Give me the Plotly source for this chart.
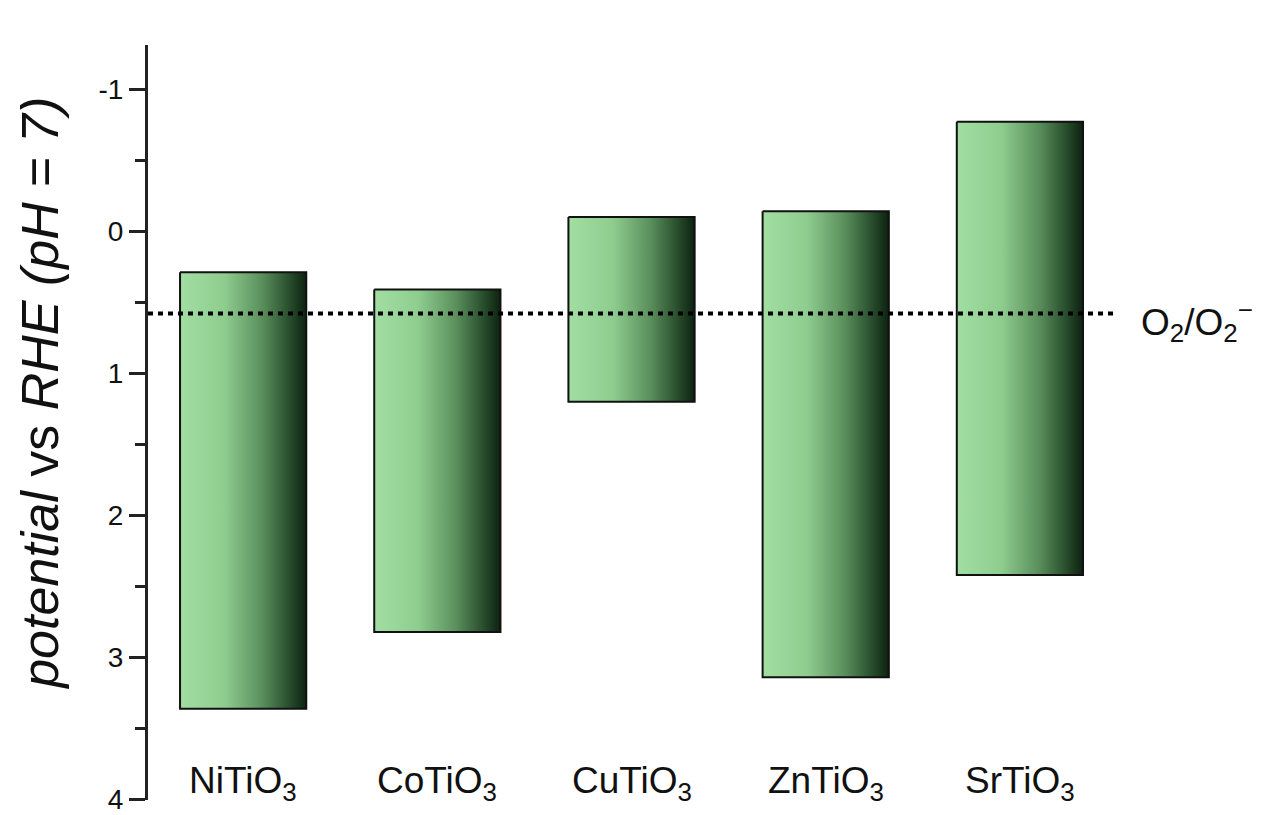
import plotly.graph_objects as go

# Band edges (V vs RHE, pH 7) for each titanate
materials = ["NiTiO<sub>3</sub>", "CoTiO<sub>3</sub>", "CuTiO<sub>3</sub>",
             "ZnTiO<sub>3</sub>", "SrTiO<sub>3</sub>"]
cb_edge = [0.29, 0.41, -0.10, -0.14, -0.77]   # conduction band (top of bar)
vb_edge = [3.36, 2.82, 1.20, 3.14, 2.42]      # valence band (bottom of bar)
o2_potential = 0.58                           # O2/O2- redox level
y_ticks = [-1, 0, 1, 2, 3, 4]
y_minor = [-0.5, 0.5, 1.5, 2.5, 3.5]

bar_width = 0.65
x_min, x_max = -0.49, 4.5
y_top, y_bottom = -1.31, 4.003

FONT = "Arial, Liberation Sans, sans-serif"

green_scale = [
    [0.0, "#a2dea2"],
    [0.35, "#8fcd8f"],
    [0.65, "#5a8f5c"],
    [0.85, "#2c5230"],
    [1.0, "#0c2210"],
]

fig = go.Figure()

for i, (top, bot) in enumerate(zip(cb_edge, vb_edge)):
    x0, x1 = i - bar_width / 2, i + bar_width / 2
    fig.add_trace(go.Scatter(
        x=[x0, x1, x1, x0, x0],
        y=[top, top, bot, bot, top],
        mode="lines",
        fill="toself",
        fillgradient=dict(type="horizontal", colorscale=green_scale),
        line=dict(color="#111111", width=2),
        hoverinfo="skip",
        showlegend=False,
    ))

# O2/O2- reference level
fig.add_trace(go.Scatter(
    x=[x_min, x_max],
    y=[o2_potential, o2_potential],
    mode="lines",
    line=dict(color="#000000", width=4, dash="5px,5px"),
    hoverinfo="skip",
    showlegend=False,
))

# Material names sit inside the plot, just above the bottom of the axis
for i, name in enumerate(materials):
    fig.add_annotation(
        x=i, y=3.88, xref="x", yref="y",
        text=name, showarrow=False,
        font=dict(family=FONT, size=37, color="#111111"),
        xanchor="center", yanchor="middle",
    )

fig.add_annotation(
    x=1.0, y=o2_potential, xref="paper", yref="y",
    text="O<sub>2</sub>/O<sub>2</sub><sup>\u2212</sup>",
    showarrow=False, xanchor="left", yanchor="middle",
    xshift=22, yshift=-8,
    font=dict(family=FONT, size=37, color="#111111"),
)

# Axis title
fig.add_annotation(
    x=0, y=0.538, xref="paper", yref="paper",
    text="<i>potential</i> vs <i>RHE (pH = 7)</i>",
    textangle=-90, showarrow=False,
    xanchor="center", yanchor="middle", xshift=-108,
    font=dict(family=FONT, size=52, color="#111111"),
)

fig.update_xaxes(
    range=[x_min, x_max],
    showline=False, showgrid=False, zeroline=False,
    showticklabels=False, ticks="",
)

fig.update_yaxes(
    range=[y_bottom, y_top],
    tickvals=y_ticks,
    ticktext=[str(v) for v in y_ticks],
    ticks="outside", ticklen=16, tickwidth=2.5, tickcolor="#222222",
    minor=dict(ticks="outside", ticklen=10, tickwidth=2.5, tickcolor="#222222",
               tickvals=y_minor),
    showline=True, linecolor="#222222", linewidth=3,
    showgrid=False, zeroline=False,
    automargin=False,
    ticklabeloverflow="allow",
    tickfont=dict(family=FONT, size=28, color="#111111"),
)

fig.update_layout(
    width=1267, height=815,
    margin=dict(l=148, r=150, t=45, b=15, autoexpand=False),
    plot_bgcolor="white", paper_bgcolor="white",
)

fig.write_html("out.html")
